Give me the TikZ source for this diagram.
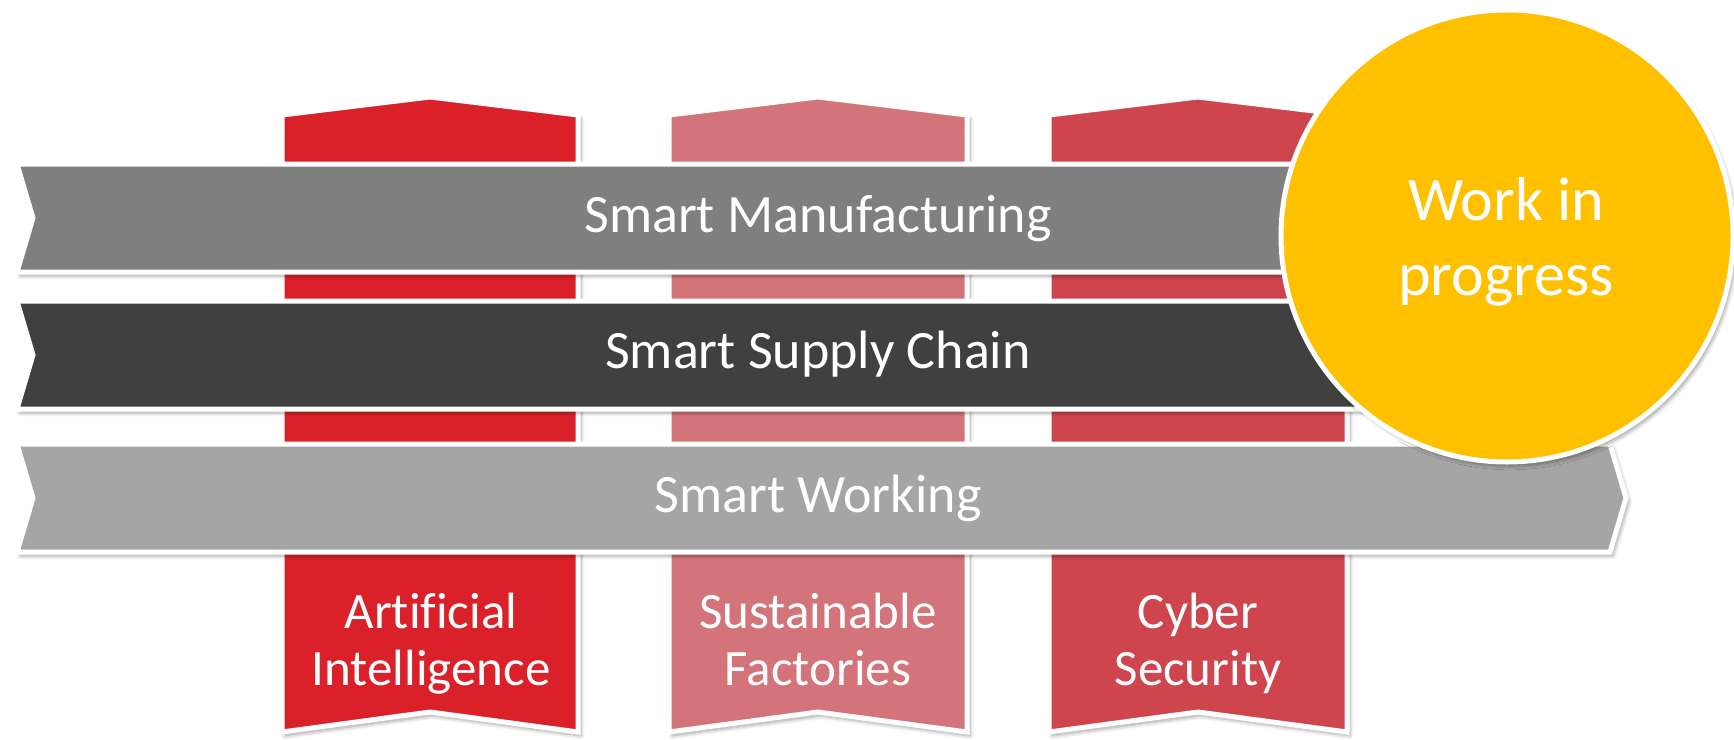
\documentclass[tikz,border=0pt]{standalone}
\usepackage{fontspec}
\setmainfont{Carlito}[Ligatures=NoCommon]
\usetikzlibrary{shadows.blur}
\definecolor{aired}{HTML}{DA2129}
\definecolor{sfpink}{HTML}{D2747A}
\definecolor{csred}{HTML}{CE454E}
\definecolor{smgray}{HTML}{7F7F7F}
\definecolor{scgray}{HTML}{404040}
\definecolor{swgray}{HTML}{A5A5A5}
\definecolor{wipyellow}{HTML}{FFC000}

\begin{document}
\begin{tikzpicture}[x=0.5pt,y=-0.5pt,
  band/.style={draw=white,line width=2.5pt,line join=miter,
    blur shadow={shadow xshift=1.5pt,shadow yshift=-2pt,shadow opacity=35,shadow blur steps=6}},
  bartext/.style={text=white,anchor=base,font=\fontsize{27}{32}\selectfont},
  ribtext/.style={text=white,anchor=base,align=center,font=\fontsize{25.5}{28.5}\selectfont},
  wiptext/.style={text=white,anchor=base,align=center,font=\fontsize{31}{37.5}\selectfont}]
\useasboundingbox (0,0) rectangle (1734,739);
\draw[band,fill=aired] (282,115) -- (430,97) -- (578,115) -- (578,732) -- (430,712) -- (282,732) -- cycle;
\draw[band,fill=sfpink] (669,115) -- (818,97) -- (967,115) -- (967,732) -- (818,712) -- (669,732) -- cycle;
\draw[band,fill=csred] (1049,115) -- (1198,97) -- (1347,115) -- (1347,732) -- (1198,712) -- (1049,732) -- cycle;
\draw[band,fill=smgray] (17,164) -- (1610,164) -- (1626,218) -- (1610,272) -- (17,272) -- (33,218) -- cycle;
\draw[band,fill=scgray] (17,301) -- (1610,301) -- (1626,355) -- (1610,409) -- (17,409) -- (33,355) -- cycle;
\draw[band,fill=swgray] (17,444) -- (1610,444) -- (1626,498) -- (1610,552) -- (17,552) -- (33,498) -- cycle;
\node[bartext] (sm) at (818,232) {Smart Manufacturing};
\node[bartext] (sc) at (818,368) {Smart Supply Chain};
\node[bartext] (sw) at (818,512) {Smart Working};
\node[ribtext] (ai) at (431,685) {Artificial\\Intelligence};
\node[ribtext] (sf) at (818,685) {Sustainable\\Factories};
\node[ribtext] (cs) at (1198,685) {Cyber\\Security};
\draw[band,fill=wipyellow] (1507,236) circle[radius=113pt];
\node[wiptext] (wip) at (1506,295) {Work in\\progress};
\end{tikzpicture}
\end{document}
